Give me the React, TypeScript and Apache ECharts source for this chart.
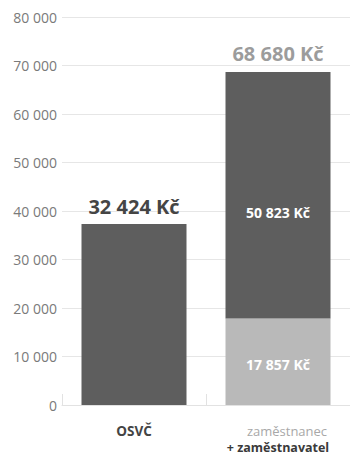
import React, { useEffect, useRef } from "react";
import * as echarts from "echarts";

const categories = ["OSVČ", "zaměstnanec\n+ zaměstnavatel"];
// bar heights as drawn in the reference (the OSVČ bar is drawn taller than its label)
const baseValues = [37300, 17857];
const upperValues = [null, 50823];
const totalValues = [null, 0];
const baseLabels = ["32 424 Kč", "17 857 Kč"];
const upperLabels = ["", "50 823 Kč"];
const totalLabels = ["", "68 680 Kč"];
const yTicks = [0, 10000, 20000, 30000, 40000, 50000, 60000, 70000, 80000];

const DARK = "#5e5e5e";
const LIGHT = "#b9b9b9";
const FONT = "Open Sans";

function fmt(v: number) {
  return String(v).replace(/\B(?=(\d{3})+(?!\d))/g, " ");
}

export default function App() {
  const ref = useRef<HTMLDivElement>(null);
  useEffect(() => {
    const chart = echarts.init(ref.current!, undefined, { renderer: "svg" });
    chart.setOption({
      animation: false,
      grid: { left: 62, right: 0, top: 17, bottom: 50, containLabel: false },
      xAxis: {
        type: "category",
        data: categories,
        boundaryGap: true,
        axisLine: { show: true, lineStyle: { color: "#e2e2e2", width: 1 } },
        axisTick: { show: true, inside: true, length: 11, lineStyle: { color: "#e2e2e2" } },
        axisLabel: {
          interval: 0,
          margin: 18,
          fontFamily: FONT,
          formatter: (v: string) => {
            if (v.indexOf("\n") >= 0) {
              const [a, b] = v.split("\n");
              return "{a|" + a + "}\n{b|" + b + "}";
            }
            return "{c|" + v + "}";
          },
          rich: {
            a: { fontFamily: FONT, fontSize: 13, color: "#a8a8a8", lineHeight: 16, padding: [0, 0, 0, 18] },
            b: { fontFamily: FONT, fontSize: 12.5, fontWeight: "bold", color: "#3a3a3a", lineHeight: 16 },
            c: { fontFamily: FONT, fontSize: 13.5, fontWeight: "bold", color: "#444", lineHeight: 16 },
          },
        },
      },
      yAxis: {
        type: "value",
        min: 0,
        max: 80000,
        interval: 10000,
        axisLine: { show: false },
        axisTick: { show: false },
        splitLine: { lineStyle: { color: "#e6e6e6", width: 1 } },
        axisLabel: {
          margin: 5,
          fontFamily: FONT,
          fontSize: 14,
          color: "#7a7a7a",
          formatter: (v: number) => (yTicks.indexOf(v) >= 0 ? fmt(v) : ""),
        },
      },
      series: [
        {
          type: "bar",
          stack: "s",
          barWidth: 105,
          data: baseValues.map((v, i) => ({
            value: v,
            itemStyle: { color: i === 0 ? DARK : LIGHT },
            label:
              i === 0
                ? {
                    show: true,
                    position: "top",
                    distance: 8,
                    formatter: baseLabels[i],
                    fontFamily: FONT,
                    fontSize: 20,
                    fontWeight: "bold",
                    color: "#454545",
                  }
                : {
                    show: true,
                    position: "inside",
                    offset: [0, 3],
                    formatter: baseLabels[i],
                    fontFamily: FONT,
                    fontSize: 14,
                    fontWeight: "bold",
                    color: "#ffffff",
                  },
          })),
        },
        {
          type: "bar",
          stack: "s",
          barWidth: 105,
          itemStyle: { color: DARK },
          data: upperValues.map((v, i) => ({
            value: v,
            label: {
              show: !!upperLabels[i],
              position: "inside",
              offset: [0, 17],
              formatter: upperLabels[i],
              fontFamily: FONT,
              fontSize: 14,
              fontWeight: "bold",
              color: "#ffffff",
            },
          })),
        },
        {
          type: "bar",
          stack: "s",
          barWidth: 105,
          itemStyle: { color: DARK },
          data: totalValues.map((v, i) => ({
            value: v,
            label: {
              show: !!totalLabels[i],
              position: "top",
              distance: 8,
              formatter: totalLabels[i],
              fontFamily: FONT,
              fontSize: 20,
              fontWeight: "bold",
              color: "#9c9c9c",
            },
          })),
        },
      ],
    });
    return () => chart.dispose();
  }, []);
  return (
    <div
      ref={ref}
      style={{ position: "fixed", left: 0, top: 0, width: 350, height: 455, background: "#fff" }}
    />
  );
}
